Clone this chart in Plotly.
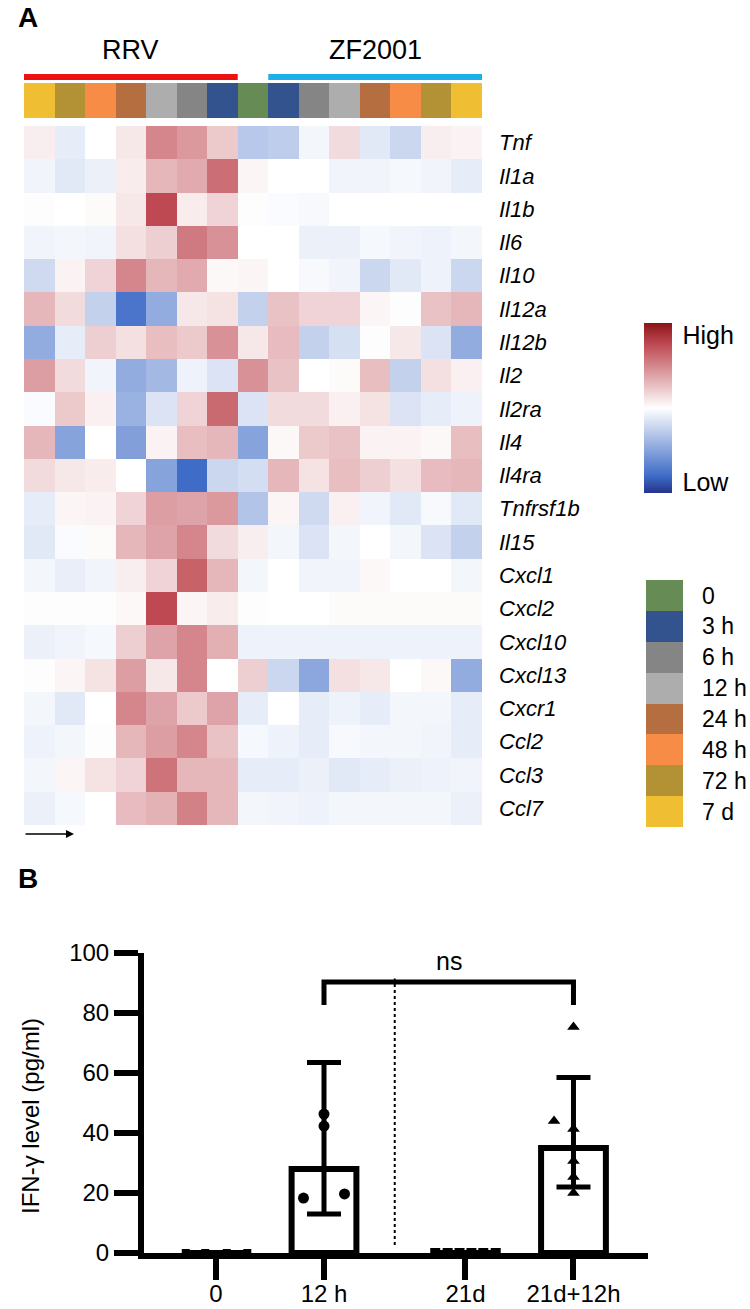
import plotly.graph_objects as go

# ---------------- data: heatmap (panel A) ----------------
genes = ["Tnf", "Il1a", "Il1b", "Il6", "Il10", "Il12a", "Il12b", "Il2", "Il2ra", "Il4",
         "Il4ra", "Tnfrsf1b", "Il15", "Cxcl1", "Cxcl2", "Cxcl10", "Cxcl13", "Cxcr1",
         "Ccl2", "Ccl3", "Ccl7"]
column_times = ["7 d", "72 h", "48 h", "24 h", "12 h", "6 h", "3 h", "0",
                "3 h", "6 h", "12 h", "24 h", "48 h", "72 h", "7 d"]
groups = ["RRV", "ZF2001"]
group_columns = [[0, 6], [8, 14]]
time_levels = ["0", "3 h", "6 h", "12 h", "24 h", "48 h", "72 h", "7 d"]
time_colors = ["#678B55", "#33538F", "#858585", "#ADADAD", "#B46E40", "#F68C45", "#B29235", "#F0BE33"]

expr = [
    [0.07, -0.10, 0.00, 0.10, 0.50, 0.42, 0.22, -0.30, -0.27, -0.05, 0.15, -0.12, -0.22, 0.07, 0.05],
    [-0.06, -0.12, -0.08, 0.08, 0.30, 0.35, 0.60, 0.04, 0.00, 0.00, -0.06, -0.06, -0.04, -0.06, -0.10],
    [0.01, 0.00, 0.02, 0.10, 0.75, 0.08, 0.18, -0.01, -0.02, -0.03, 0.00, 0.00, 0.00, 0.00, 0.00],
    [-0.06, -0.05, -0.06, 0.13, 0.20, 0.55, 0.45, 0.00, 0.00, -0.08, -0.08, -0.04, -0.06, -0.07, -0.05],
    [-0.20, 0.05, 0.18, 0.50, 0.30, 0.35, 0.03, 0.04, 0.00, -0.03, -0.06, -0.22, -0.12, -0.07, -0.22],
    [0.30, 0.15, -0.25, -0.75, -0.45, 0.10, 0.12, -0.25, 0.25, 0.18, 0.18, 0.04, 0.01, 0.25, 0.30],
    [-0.45, -0.10, 0.20, 0.13, 0.27, 0.22, 0.45, 0.10, 0.28, -0.25, -0.17, 0.01, 0.10, -0.15, -0.45],
    [0.40, 0.15, -0.06, -0.45, -0.38, -0.07, -0.15, 0.45, 0.25, 0.00, 0.02, 0.27, -0.25, 0.13, 0.06],
    [-0.02, 0.22, 0.06, -0.42, -0.15, 0.18, 0.62, -0.15, 0.15, 0.15, 0.06, 0.12, -0.15, -0.10, -0.07],
    [0.30, -0.50, 0.00, -0.52, 0.05, 0.27, 0.30, -0.50, 0.03, 0.22, 0.25, 0.05, 0.05, 0.03, 0.27],
    [0.15, 0.10, 0.08, 0.00, -0.50, -0.80, -0.22, -0.18, 0.30, 0.12, 0.27, 0.20, 0.13, 0.28, 0.30],
    [-0.10, 0.04, 0.05, 0.18, 0.40, 0.38, 0.42, -0.32, 0.04, -0.20, 0.06, -0.06, -0.12, -0.03, -0.12],
    [-0.12, -0.02, 0.02, 0.30, 0.38, 0.50, 0.15, 0.07, -0.05, -0.15, -0.05, 0.00, -0.05, -0.15, -0.25],
    [-0.05, -0.09, -0.06, 0.07, 0.18, 0.65, 0.30, -0.05, 0.00, -0.06, -0.06, 0.03, 0.00, 0.00, -0.05],
    [0.01, 0.01, 0.01, 0.03, 0.75, 0.04, 0.08, 0.01, 0.00, 0.00, 0.02, 0.02, 0.02, 0.02, 0.02],
    [-0.08, -0.06, -0.04, 0.20, 0.38, 0.50, 0.33, -0.07, -0.07, -0.07, -0.07, -0.07, -0.07, -0.07, -0.07],
    [0.01, 0.04, 0.12, 0.40, 0.10, 0.50, 0.00, 0.20, -0.22, -0.48, 0.13, 0.10, 0.00, 0.03, -0.45],
    [-0.05, -0.12, 0.00, 0.50, 0.38, 0.22, 0.38, -0.10, 0.00, -0.10, -0.07, -0.10, -0.05, -0.05, -0.10],
    [-0.07, -0.05, 0.01, 0.30, 0.40, 0.50, 0.25, -0.04, -0.07, -0.10, -0.03, -0.05, -0.05, -0.06, -0.10],
    [-0.05, 0.04, 0.12, 0.18, 0.58, 0.30, 0.30, -0.10, -0.10, -0.08, -0.12, -0.10, -0.08, -0.07, -0.06],
    [-0.08, -0.04, 0.00, 0.28, 0.32, 0.52, 0.30, -0.05, -0.06, -0.07, -0.05, -0.05, -0.05, -0.05, -0.08],
]

# ---------------- data: bar chart (panel B) ----------------
bar_groups = ["0", "12 h", "21d", "21d+12h"]
bar_means = [0, 28, 0, 35]
err_plus = [0, 35.5, 0, 23.5]
err_minus = [0, 15, 0, 13]
pts_0 = [0, 0, 0, 0]
pts_12h = [18.3, 19.7, 46.3, 42.3]
pts_21d = [0, 0, 0, 0, 0, 0]
pts_21d12h = [44, 75.3, 41.3, 30.7, 25.3, 20]
sig_label = "ns"

# ---------------- layout constants ----------------
W, H = 750, 1309
def py(p):  # pixel-from-top -> paper y
    return 1 - p / H
def px(p):
    return p / W

FONT = "Liberation Sans, Arial, sans-serif"
GROUP_X = [1.0, 2.0, 3.31, 4.31]
jit_0 = [-0.28, -0.10, 0.10, 0.29]
jit_12h = [-0.19, 0.19, 0.0, 0.0]
jit_21d = [-0.28, -0.165, -0.055, 0.055, 0.165, 0.28]
jit_21d12h = [-0.18, 0.0, 0.0, 0.0, 0.0, 0.0]

heat_scale = [[0.0, "#26338A"], [0.1, "#3E6CC6"], [0.5, "#FFFFFF"], [0.88, "#BD4750"], [1.0, "#8A1518"]]

def discrete_scale(colors):
    n = len(colors)
    s = []
    for i, c in enumerate(colors):
        s.append([i / n, c])
        s.append([(i + 1) / n, c])
    return s

tscale = discrete_scale(time_colors)
col_idx = [time_levels.index(t) for t in column_times]

fig = go.Figure()

# main heatmap
fig.add_trace(go.Heatmap(
    z=expr, x=list(range(len(column_times))), y=genes,
    colorscale=heat_scale, zmin=-1, zmax=1, xaxis="x", yaxis="y",
    colorbar=dict(x=px(644), xanchor="left", xpad=0, ypad=0, y=py(408), yanchor="middle",
                  len=170 / H, lenmode="fraction", thickness=28, outlinewidth=0,
                  tickvals=[0.86, -0.87], ticktext=["High", "Low"], ticks="outside",
                  ticklen=6, tickcolor="rgba(0,0,0,0)",
                  tickfont=dict(family=FONT, size=25, color="black")),
    hoverinfo="skip"))

# annotation row (time colors)
fig.add_trace(go.Heatmap(
    z=[col_idx], x=list(range(len(column_times))), y=[0],
    colorscale=tscale, zmin=-0.5, zmax=len(time_levels) - 0.5, showscale=False,
    xaxis="x2", yaxis="y2", hoverinfo="skip"))

# legend for time colors
fig.add_trace(go.Heatmap(
    z=[[i] for i in range(len(time_levels))], x=[0], y=time_levels,
    colorscale=tscale, zmin=-0.5, zmax=len(time_levels) - 0.5, showscale=False,
    xaxis="x3", yaxis="y3", hoverinfo="skip"))

# bar chart
fig.add_trace(go.Bar(
    x=GROUP_X, y=bar_means, width=0.6, xaxis="x4", yaxis="y4",
    marker=dict(color="white", line=dict(color="black", width=6)),
    error_y=dict(type="data", array=err_plus, arrayminus=err_minus, symmetric=False,
                 color="black", thickness=5, width=17),
    showlegend=False))

def add_pts(gi, vals, jit, symbol, size):
    fig.add_trace(go.Scatter(
        x=[GROUP_X[gi] + j for j in jit], y=vals, mode="markers", xaxis="x4", yaxis="y4",
        marker=dict(symbol=symbol, size=size, color="black"), cliponaxis=False, showlegend=False))

add_pts(0, pts_0, jit_0, "square", 8)
add_pts(1, pts_12h, jit_12h, "circle", 11)
add_pts(2, pts_21d, jit_21d, "square", 10)
add_pts(3, pts_21d12h, jit_21d12h, "triangle-up", 11)

# dotted separator
sep_x = (GROUP_X[1] + GROUP_X[2]) / 2
fig.add_shape(type="line", xref="x4", yref="y4", x0=sep_x, x1=sep_x, y0=2.7, y1=91.5,
              line=dict(color="black", width=2, dash="dot"))
# significance bracket
fig.add_shape(type="path", xref="x4", yref="y4",
              path=f"M {GROUP_X[1]},82.7 L {GROUP_X[1]},90.3 L {GROUP_X[3]},90.3 L {GROUP_X[3]},82.7",
              line=dict(color="black", width=5))

# group bars above the annotation row
for (c0, c1), col in zip(group_columns, ["#EE1111", "#1BB0E8"]):
    fig.add_shape(type="line", xref="x2", yref="paper", x0=c0 - 0.5, x1=c1 + 0.5,
                  y0=py(77), y1=py(77), line=dict(color=col, width=6))

ann = []
for (c0, c1), g in zip(group_columns, groups):
    ann.append(dict(text=g, x=(c0 + c1) / 2, xref="x2", y=py(50), yref="paper", yanchor="middle",
                    showarrow=False, font=dict(family=FONT, size=27, color="black")))
ann.append(dict(text="<b>A</b>", x=px(16), y=py(18), xref="paper", yref="paper", showarrow=False,
                yanchor="middle", font=dict(family=FONT, size=28, color="black")))
ann.append(dict(text="<b>B</b>", x=px(16), y=py(878), xref="paper", yref="paper", showarrow=False,
                yanchor="middle", font=dict(family=FONT, size=28, color="black")))
ann.append(dict(text="", x=px(74), y=py(834), xref="paper", yref="paper", showarrow=True,
                ax=-50, ay=0, arrowhead=2, arrowsize=1, arrowwidth=1.6, arrowcolor="black"))
ann.append(dict(text=sig_label, x=(GROUP_X[1] + GROUP_X[3]) / 2, xref="x4", y=py(961), yref="paper",
                yanchor="middle", showarrow=False, font=dict(family=FONT, size=25, color="black")))
ann.append(dict(text="IFN-γ level (pg/ml)", x=px(30), y=py(1116), xref="paper", yref="paper",
                xanchor="center", yanchor="middle", textangle=-90, showarrow=False,
                font=dict(family=FONT, size=24, color="black")))

hid = dict(showgrid=False, zeroline=False, showticklabels=False, ticks="", showline=False,
           automargin=False)
ncol = len(column_times)

fig.update_layout(
    width=W, height=H, margin=dict(l=0, r=0, t=0, b=0, autoexpand=False),
    paper_bgcolor="white", plot_bgcolor="white", showlegend=False,
    annotations=ann,
    xaxis=dict(domain=[px(24), px(482)], range=[-0.5, ncol - 0.5], **hid),
    yaxis=dict(domain=[py(825), py(126)], autorange="reversed", side="right", automargin=False,
               showgrid=False, zeroline=False, ticks="", ticklabelstandoff=16,
               tickvals=genes, ticktext=[f"<i>{g}</i>" for g in genes],
               tickfont=dict(family=FONT, size=22, color="black")),
    xaxis2=dict(domain=[px(24), px(482)], range=[-0.5, ncol - 0.5], anchor="y2", **hid),
    yaxis2=dict(domain=[py(118), py(83)], anchor="x2", **hid),
    xaxis3=dict(domain=[px(646), px(683)], anchor="y3", **hid),
    yaxis3=dict(domain=[py(827), py(580)], anchor="x3", autorange="reversed", side="right",
                showgrid=False, zeroline=False, ticks="", ticklabelstandoff=18, automargin=False,
                tickfont=dict(family=FONT, size=23, color="black")),
    xaxis4=dict(domain=[px(144), px(648)], anchor="y4", automargin=False,
                range=[GROUP_X[0] - (216 - 144) / 108, GROUP_X[0] + (648 - 216) / 108],
                tickvals=GROUP_X, ticktext=bar_groups, showline=True, linewidth=6, linecolor="black",
                ticks="outside", ticklen=21, tickwidth=6, tickcolor="black",
                ticklabelstandoff=-7, showgrid=False, zeroline=False,
                tickfont=dict(family=FONT, size=24, color="black")),
    yaxis4=dict(domain=[py(1253), py(953)], anchor="x4", range=[0, 100], automargin=False,
                tickvals=[0, 20, 40, 60, 80, 100], showline=True, linewidth=6, linecolor="black",
                ticks="outside", ticklen=24, tickwidth=6, tickcolor="black",
                showgrid=False, zeroline=False,
                tickfont=dict(family=FONT, size=24, color="black")),
)

fig.write_html("out.html", config={"displayModeBar": False},
               post_script="document.body.style.margin='0';document.body.style.padding='0';")
